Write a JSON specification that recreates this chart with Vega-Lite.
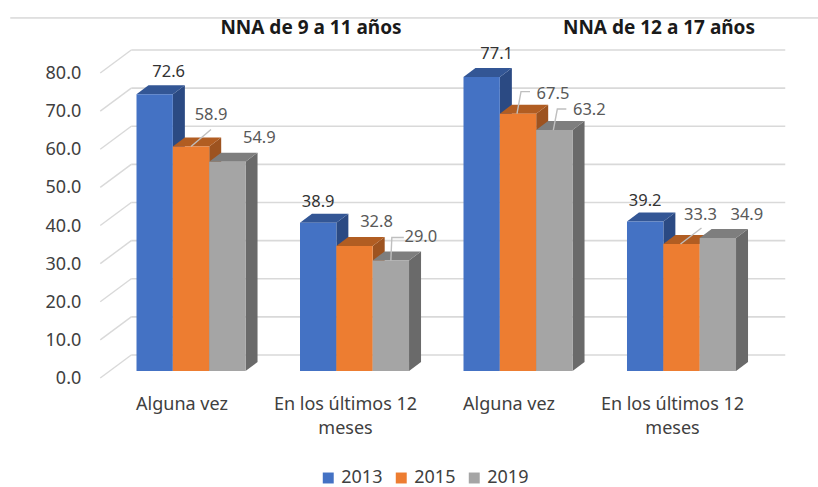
{"$schema":"https://vega.github.io/schema/vega-lite/v6.json","width":654,"height":305,"autosize":{"type":"none"},"padding":{"left":109.25,"top":66,"right":54.75,"bottom":116},"background":"white","config":{"view":{"stroke":null},"font":"Noto Sans"},"datasets":{"barras":[{"columna":"9 a 11 años · Alguna vez","anio":"2013","valor":72.6},{"columna":"9 a 11 años · Alguna vez","anio":"2015","valor":58.9},{"columna":"9 a 11 años · Alguna vez","anio":"2019","valor":54.9},{"columna":"9 a 11 años · En los últimos 12 meses","anio":"2013","valor":38.9},{"columna":"9 a 11 años · En los últimos 12 meses","anio":"2015","valor":32.8},{"columna":"9 a 11 años · En los últimos 12 meses","anio":"2019","valor":29.0},{"columna":"12 a 17 años · Alguna vez","anio":"2013","valor":77.1},{"columna":"12 a 17 años · Alguna vez","anio":"2015","valor":67.5},{"columna":"12 a 17 años · Alguna vez","anio":"2019","valor":63.2},{"columna":"12 a 17 años · En los últimos 12 meses","anio":"2013","valor":39.2},{"columna":"12 a 17 años · En los últimos 12 meses","anio":"2015","valor":33.3},{"columna":"12 a 17 años · En los últimos 12 meses","anio":"2019","valor":34.9}],"marcas":[{"tick":0},{"tick":10},{"tick":20},{"tick":30},{"tick":40},{"tick":50},{"tick":60},{"tick":70},{"tick":80}]},"encoding":{"x":{"field":"columna","type":"nominal","sort":null,"scale":{"domain":["9 a 11 años · Alguna vez","9 a 11 años · En los últimos 12 meses","12 a 17 años · Alguna vez","12 a 17 años · En los últimos 12 meses"],"paddingInner":0.3333,"paddingOuter":0.1667}}},"layer":[{"data":{"values":[{"t":92.6}]},"mark":{"type":"rule","color":"#c4c4c4","strokeWidth":1,"xOffset":-99,"x2Offset":55},"encoding":{"x":{"value":0},"x2":{"value":654},"y":{"field":"t","type":"quantitative","scale":{"domain":[0,80],"nice":false},"axis":null}}},{"data":{"name":"marcas"},"mark":{"type":"rule","color":"#d9d9d9","strokeWidth":1.6,"xOffset":22,"x2Offset":22,"yOffset":-16},"encoding":{"x":{"value":0},"x2":{"value":654},"y":{"field":"tick","type":"quantitative","scale":{"domain":[0,80],"nice":false},"axis":null}}},{"data":{"name":"marcas"},"mark":{"type":"point","filled":false,"size":4,"stroke":"#d9d9d9","strokeWidth":1.4,"opacity":1,"shape":"M-90.75,7 L-59.75,-16"},"encoding":{"x":{"datum":"9 a 11 años · Alguna vez"},"y":{"field":"tick","type":"quantitative","scale":{"domain":[0,80],"nice":false},"axis":null}}},{"data":{"name":"marcas"},"mark":{"type":"text","fontSize":18,"color":"#404040","align":"right","baseline":"middle","dx":-109.75,"dy":8},"encoding":{"x":{"datum":"9 a 11 años · Alguna vez"},"y":{"field":"tick","type":"quantitative","scale":{"domain":[0,80],"nice":false},"axis":null},"text":{"field":"tick","type":"quantitative","format":".1f"}}},{"data":{"name":"barras"},"mark":{"type":"point","filled":true,"size":4,"opacity":1,"shape":{"expr":"'M18.2,0 L30.2,-9 L30.2,'+(datum.valor*3.8125-9)+' L18.2,'+(datum.valor*3.8125)+' Z'"}},"encoding":{"xOffset":{"field":"anio","type":"nominal"},"y":{"field":"valor","type":"quantitative","scale":{"domain":[0,80],"nice":false},"axis":null},"color":{"field":"anio","type":"nominal","legend":null,"scale":{"domain":["2013","2015","2019"],"range":["#2b4a83","#9d5320","#6a6a6a"]}}}},{"data":{"name":"barras"},"mark":{"type":"point","filled":true,"size":4,"opacity":1,"shape":"M-18.2,0 L18.2,0 L30.2,-9 L-6.2,-9 Z"},"encoding":{"xOffset":{"field":"anio","type":"nominal"},"y":{"field":"valor","type":"quantitative","scale":{"domain":[0,80],"nice":false},"axis":null},"color":{"field":"anio","type":"nominal","legend":null,"scale":{"domain":["2013","2015","2019"],"range":["#335695","#b15d22","#7e7e7e"]}}}},{"data":{"name":"barras"},"mark":{"type":"bar"},"encoding":{"xOffset":{"field":"anio","type":"nominal"},"y":{"field":"valor","type":"quantitative","scale":{"domain":[0,80],"nice":false},"axis":null},"color":{"field":"anio","type":"nominal","scale":{"domain":["2013","2015","2019"],"range":["#4472c4","#ed7d31","#a5a5a5"]},"legend":{"orient":"none","legendX":210,"legendY":403,"direction":"horizontal","title":null,"symbolType":"square","symbolSize":120,"symbolStrokeWidth":0,"labelFontSize":18,"labelColor":"#404040","columnPadding":9,"labelOffset":4}}}},{"data":{"name":"barras"},"transform":[{"filter":"indexof([58.9,29.0,67.5,63.2,33.3],datum.valor)>=0"}],"mark":{"type":"point","filled":false,"size":4,"stroke":"#bfbfbf","strokeWidth":1.4,"opacity":1,"shape":{"expr":"({'58.9':'M0,0 L20,-17','29.0':'M0,0 L1,-23 L13,-23','67.5':'M-1,0 L3,-22 L12,-22','63.2':'M-1,0 L3,-21 L12,-21','33.3':'M-1,0 L20,-16'})[format(datum.valor,'.1f')]"}},"encoding":{"xOffset":{"field":"anio","type":"nominal"},"y":{"field":"valor","type":"quantitative","scale":{"domain":[0,80],"nice":false},"axis":null}}},{"data":{"name":"barras"},"mark":{"type":"text","fontSize":16.5,"baseline":"middle","align":"center","dx":{"expr":"({'72.6':14,'58.9':20,'54.9':32,'38.9':0,'32.8':22,'29.0':30,'77.1':15,'67.5':35,'63.2':35,'39.2':0,'33.3':19,'34.9':29})[format(datum.valor,'.1f')]"},"dy":{"expr":"({'72.6':-22,'58.9':-31,'54.9':-24,'38.9':-21,'32.8':-24,'29.0':-23,'77.1':-23,'67.5':-20,'63.2':-20,'39.2':-21,'33.3':-29,'34.9':-23})[format(datum.valor,'.1f')]"}},"encoding":{"xOffset":{"field":"anio","type":"nominal"},"y":{"field":"valor","type":"quantitative","scale":{"domain":[0,80],"nice":false},"axis":null},"text":{"field":"valor","type":"quantitative","format":".1f"},"color":{"condition":{"test":"datum.anio=='2013'","value":"#333333"},"value":"#595959"}}},{"data":{"values":[{"columna":"9 a 11 años · En los últimos 12 meses","titulo":"NNA de 9 a 11 años"}]},"mark":{"type":"text","fontSize":19,"fontWeight":"bold","color":"#1a1a1a","baseline":"middle","align":"center","dx":-43.5},"encoding":{"y":{"datum":90,"scale":{"domain":[0,80],"nice":false},"axis":null},"text":{"field":"titulo"}}},{"data":{"values":[{"columna":"12 a 17 años · En los últimos 12 meses","titulo":"NNA de 12 a 17 años"}]},"mark":{"type":"text","fontSize":19,"fontWeight":"bold","color":"#1a1a1a","baseline":"middle","align":"center","dx":-22.5},"encoding":{"y":{"datum":90,"scale":{"domain":[0,80],"nice":false},"axis":null},"text":{"field":"titulo"}}},{"data":{"name":"barras"},"mark":{"type":"bar","opacity":0},"encoding":{"xOffset":{"field":"anio","type":"nominal"},"x":{"field":"columna","type":"nominal","title":null,"axis":{"domain":false,"ticks":false,"labelAngle":0,"labelAlign":"center","labelFontSize":18,"labelColor":"#404040","labelOffset":-9,"labelPadding":33,"labelLineHeight":24,"labelOverlap":false,"labelExpr":"indexof(datum.label,'Alguna')>=0 ? 'Alguna vez' : ['En los últimos 12','meses']"}},"y":{"field":"valor","type":"quantitative","scale":{"domain":[0,80],"nice":false},"axis":null}}}],"resolve":{"scale":{"color":"independent"}}}
